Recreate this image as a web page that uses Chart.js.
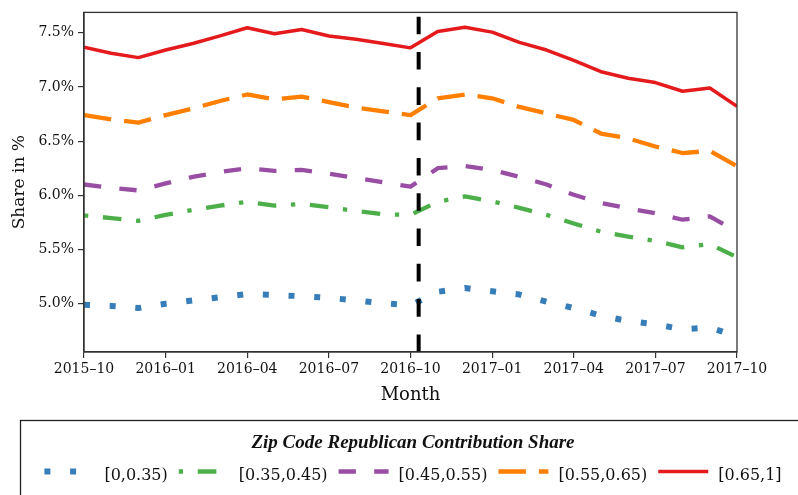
<!DOCTYPE html>
<html>
<head>
<meta charset="utf-8">
<script src="https://cdn.jsdelivr.net/npm/chart.js@4.4.0/dist/chart.umd.min.js"></script>
<style>
  html, body { margin: 0; padding: 0; background: #fff; }
  #wrap { width: 798px; height: 495px; }
</style>
</head>
<body>
<div id="wrap"><canvas id="chart" width="798" height="495"></canvas></div>
<script>
// months on the x axis (index = position)
const months = [
  '2015-10', '2015-11', '2015-12', '2016-01', '2016-02', '2016-03', '2016-04',
  '2016-05', '2016-06', '2016-07', '2016-08', '2016-09', '2016-10', '2016-11',
  '2016-12', '2017-01', '2017-02', '2017-03', '2017-04', '2017-05', '2017-06',
  '2017-07', '2017-08', '2017-09', '2017-10'
];
const xTickIdx = [0, 3, 6, 9, 12, 15, 18, 21, 24];
const yTickVals = [5.0, 5.5, 6.0, 6.5, 7.0, 7.5];
const electionIdx = 12.3; // 2016 election, early Nov

const seriesLabels = ['[0,0.35)', '[0.35,0.45)', '[0.45,0.55)', '[0.55,0.65)', '[0.65,1]'];
const legendTitle = 'Zip Code Republican Contribution Share';

// share in % per bucket
const share0 = [4.99, 4.98, 4.96, 5.00, 5.03, 5.06, 5.09, 5.08, 5.07, 5.055, 5.03, 5.005, 4.985,
                5.11, 5.145, 5.115, 5.085, 5.02, 4.96, 4.89, 4.84, 4.81, 4.765, 4.78, 4.70];
const share1 = [5.815, 5.79, 5.765, 5.82, 5.865, 5.905, 5.94, 5.905, 5.92, 5.89, 5.855, 5.825, 5.82,
                5.94, 5.99, 5.945, 5.885, 5.82, 5.74, 5.665, 5.62, 5.58, 5.52, 5.55, 5.43];
const share2 = [6.10, 6.07, 6.045, 6.11, 6.17, 6.215, 6.25, 6.225, 6.235, 6.20, 6.16, 6.12, 6.08,
                6.25, 6.27, 6.235, 6.17, 6.10, 6.005, 5.93, 5.88, 5.835, 5.775, 5.805, 5.665];
const share3 = [6.74, 6.70, 6.67, 6.74, 6.80, 6.87, 6.93, 6.885, 6.91, 6.86, 6.81, 6.775, 6.74,
                6.895, 6.93, 6.895, 6.815, 6.755, 6.695, 6.57, 6.525, 6.45, 6.39, 6.41, 6.27];
const share4 = [7.365, 7.31, 7.27, 7.34, 7.40, 7.47, 7.545, 7.49, 7.53, 7.47, 7.44, 7.40, 7.36,
                7.51, 7.55, 7.505, 7.41, 7.34, 7.245, 7.14, 7.08, 7.04, 6.96, 6.99, 6.82];

const colors = ['#377eb8', '#4daf4a', '#984ea3', '#ff7f00', '#e41a1c'];
const widths = [6, 4.3, 4.3, 4.3, 3.5];
const dashes = [[6, 19.7], [18.6, 14.7, 4.3, 14.7], [17.3, 18.3], [27.5, 13], []];
const dashOffsets = [0, 33.3, 0, 0, 0];

const allSeries = [share0, share1, share2, share3, share4];

const datasets = allSeries.map((vals, i) => ({
  label: seriesLabels[i],
  data: vals.map((v, j) => ({ x: j, y: v })),
  borderColor: colors[i],
  borderWidth: widths[i],
  borderDash: dashes[i],
  borderDashOffset: dashOffsets[i],
  borderCapStyle: 'butt',
  borderJoinStyle: 'round',
  pointRadius: 0,
  tension: 0,
  fill: false
}));

const serif = '"DejaVu Serif", serif';

// election line + frame + legend box
const extras = {
  id: 'extras',
  afterDatasetsDraw(chart) {
    const { ctx, chartArea, scales } = chart;
    ctx.save();
    const x = scales.x.getPixelForValue(electionIdx);
    ctx.beginPath();
    ctx.setLineDash([17.6, 17.7]);
    ctx.lineWidth = 4;
    ctx.strokeStyle = '#000';
    ctx.moveTo(x, chartArea.bottom);
    ctx.lineTo(x, chartArea.top);
    ctx.stroke();
    ctx.setLineDash([]);
    ctx.lineWidth = 1.3;
    ctx.strokeStyle = '#333';
    ctx.strokeRect(chartArea.left, chartArea.top, chartArea.right - chartArea.left, chartArea.bottom - chartArea.top);
    ctx.restore();
  },
  afterDraw(chart) {
    const ctx = chart.ctx;
    ctx.save();
    ctx.strokeStyle = '#222';
    ctx.lineWidth = 1.3;
    ctx.strokeRect(20.5, 420.5, 800, 100);
    ctx.fillStyle = '#111';
    ctx.textAlign = 'center';
    ctx.textBaseline = 'alphabetic';
    ctx.font = 'bold italic 19px "Liberation Serif"';
    ctx.fillText(legendTitle, 413, 448);

    ctx.font = '16px ' + serif;
    ctx.textAlign = 'left';
    const handle = 50, gap = 10, colGap = 11;
    const ds = chart.data.datasets;
    const tw = ds.map(d => ctx.measureText(d.label).width);
    const total = tw.reduce((a, b) => a + b, 0) + ds.length * (handle + gap) + (ds.length - 1) * colGap;
    let x = 413 - total / 2;
    ds.forEach((d, i) => {
      ctx.beginPath();
      ctx.strokeStyle = d.borderColor;
      ctx.lineWidth = d.borderWidth;
      ctx.lineCap = 'butt';
      ctx.setLineDash(d.borderDash);
      ctx.lineDashOffset = d.borderDashOffset;
      ctx.moveTo(x, 471.5);
      ctx.lineTo(x + handle, 471.5);
      ctx.stroke();
      ctx.setLineDash([]);
      ctx.fillStyle = '#111';
      ctx.fillText(d.label, x + handle + gap, 480);
      x += handle + gap + tw[i] + colGap;
    });
    ctx.restore();
  }
};

new Chart(document.getElementById('chart').getContext('2d'), {
  type: 'line',
  data: { datasets: datasets },
  options: {
    responsive: false,
    animation: false,
    layout: { padding: { left: 0, top: 12, right: 61, bottom: 0 } },
    plugins: { legend: { display: false }, tooltip: { enabled: false } },
    scales: {
      x: {
        type: 'linear',
        min: 0,
        max: 24,
        afterFit: (s) => { s.height = 143; },
        afterBuildTicks: (s) => { s.ticks = xTickIdx.map(v => ({ value: v })); },
        ticks: {
          autoSkip: false,
          maxRotation: 0,
          padding: 3,
          color: '#111',
          font: { family: serif, size: 14 },
          callback: (v) => months[v].replace('-', '\u2013')
        },
        grid: { display: true, drawOnChartArea: false, drawTicks: true, tickLength: 6, color: '#333', lineWidth: 1.2 },
        border: { display: true, color: '#333', width: 1.3 },
        title: {
          display: true,
          text: 'Month',
          color: '#111',
          font: { family: serif, size: 18 },
          padding: { top: 0, bottom: 89 }
        }
      },
      y: {
        min: 4.555,
        max: 7.687,
        afterFit: (s) => { s.width = 84; },
        afterBuildTicks: (s) => { s.ticks = yTickVals.map(v => ({ value: v })); },
        ticks: {
          padding: 4,
          color: '#111',
          font: { family: serif, size: 14 },
          callback: (v) => v.toFixed(1) + '%'
        },
        grid: { display: true, drawOnChartArea: false, drawTicks: true, tickLength: 6, color: '#333', lineWidth: 1.2 },
        border: { display: true, color: '#333', width: 1.3 },
        title: {
          display: true,
          text: 'Share in %',
          color: '#111',
          font: { family: serif, size: 17 },
          padding: { top: 9, bottom: 0 }
        }
      }
    }
  },
  plugins: [extras]
});
</script>
</body>
</html>
